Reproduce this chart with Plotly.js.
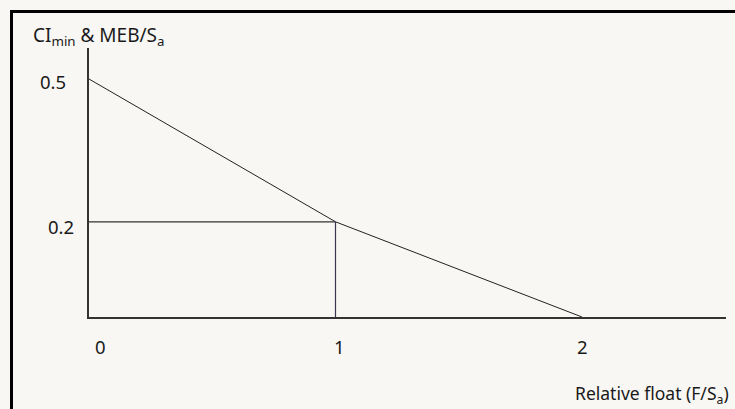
<!DOCTYPE html>
<html>
<head>
<meta charset="utf-8">
<script src="https://cdn.plot.ly/plotly-3.0.1.min.js"></script>
<style>
  html, body { margin: 0; padding: 0; background: #f8f7f4; }
  #chart { width: 735px; height: 409px; }
</style>
</head>
<body>
<div id="chart"></div>
<script>
// Data (schematic)
const floatX = [0, 1, 2];            // relative float F/Sa
const ciMinY = [0.5, 0.2, 0];        // CI_min & MEB/Sa curve
const boxX = [0, 1, 1];              // reference box at F/Sa = 1
const boxY = [0.2, 0.2, 0];
const xTickVals = [0, 1, 2];
const xTickText = ['0', '1', '2'];
const yTickVals = [0.5, 0.2];
const yTickText = ['0.5', '0.2'];

// Layout geometry (pixels)
const W = 735, H = 409;
const mL = 89, mR = 9, mT = 48, mB = 92;
const pw = W - mL - mR, ph = H - mT - mB;
const px = x => (x - mL) / pw;          // pixel -> paper x
const py = y => (H - mB - y) / ph;      // pixel -> paper y

const fam = 'Noto Sans, Open Sans, sans-serif';
const font = {family: fam, size: 18.5, color: '#1a1a1a'};
const titleFont = {family: fam, size: 19, color: '#1a1a1a'};
const xTitleFont = {family: fam, size: 17.5, color: '#1a1a1a'};

const traces = [
  {x: floatX, y: ciMinY, mode: 'lines', line: {color: '#222', width: 1}, hoverinfo: 'skip'},
  {x: boxX.slice(0, 2), y: boxY.slice(0, 2), mode: 'lines', line: {color: '#333', width: 1.2}, hoverinfo: 'skip'},
  {x: boxX.slice(1), y: boxY.slice(1), mode: 'lines', line: {color: '#3a3550', width: 1.2}, hoverinfo: 'skip'}
];

const xLabelShift = [11, 4, 0];
const yLabelPix = [{x: 68, dy: 2}, {x: 76, dy: 5}];

const annotations = [];
xTickVals.forEach((v, i) => {
  annotations.push({x: v, y: py(346), xref: 'x', yref: 'paper', text: xTickText[i],
    showarrow: false, font: font, xanchor: 'center', yanchor: 'middle', xshift: xLabelShift[i]});
});
yTickVals.forEach((v, i) => {
  annotations.push({x: px(yLabelPix[i].x), y: v, xref: 'paper', yref: 'y', text: yTickText[i],
    showarrow: false, font: font, xanchor: 'right', yanchor: 'middle', yshift: -yLabelPix[i].dy});
});
annotations.push({x: px(31), y: py(36), xref: 'paper', yref: 'paper',
  text: 'CI<sub>min</sub> & MEB/S<sub>a</sub>', showarrow: false, font: titleFont,
  xanchor: 'left', yanchor: 'middle'});
annotations.push({x: px(731), y: py(394), xref: 'paper', yref: 'paper',
  text: 'Relative float (F/S<sub>a</sub>)', showarrow: false, font: xTitleFont,
  xanchor: 'right', yanchor: 'middle'});

const layout = {
  width: W, height: H,
  margin: {l: mL, r: mR, t: mT, b: mB, pad: 0},
  paper_bgcolor: '#f8f7f4',
  plot_bgcolor: '#f8f7f4',
  showlegend: false,
  xaxis: {range: [0, pw / 246.5], showgrid: false, zeroline: false, showticklabels: false,
          ticks: '', showline: true, linecolor: '#333', linewidth: 1.6, fixedrange: true},
  yaxis: {range: [0, ph / 476], showgrid: false, zeroline: false, showticklabels: false,
          ticks: '', showline: true, linecolor: '#333', linewidth: 1.6, fixedrange: true},
  annotations: annotations,
  shapes: [
    {type: 'line', xref: 'paper', yref: 'paper', x0: px(11.5), x1: px(W + 2), y0: py(11.5), y1: py(11.5),
     line: {color: '#000', width: 3}},
    {type: 'line', xref: 'paper', yref: 'paper', x0: px(11.5), x1: px(11.5), y0: py(10), y1: py(H + 2),
     line: {color: '#000', width: 3}}
  ]
};

Plotly.newPlot('chart', traces, layout, {staticPlot: true, displayModeBar: false});
</script>
</body>
</html>
